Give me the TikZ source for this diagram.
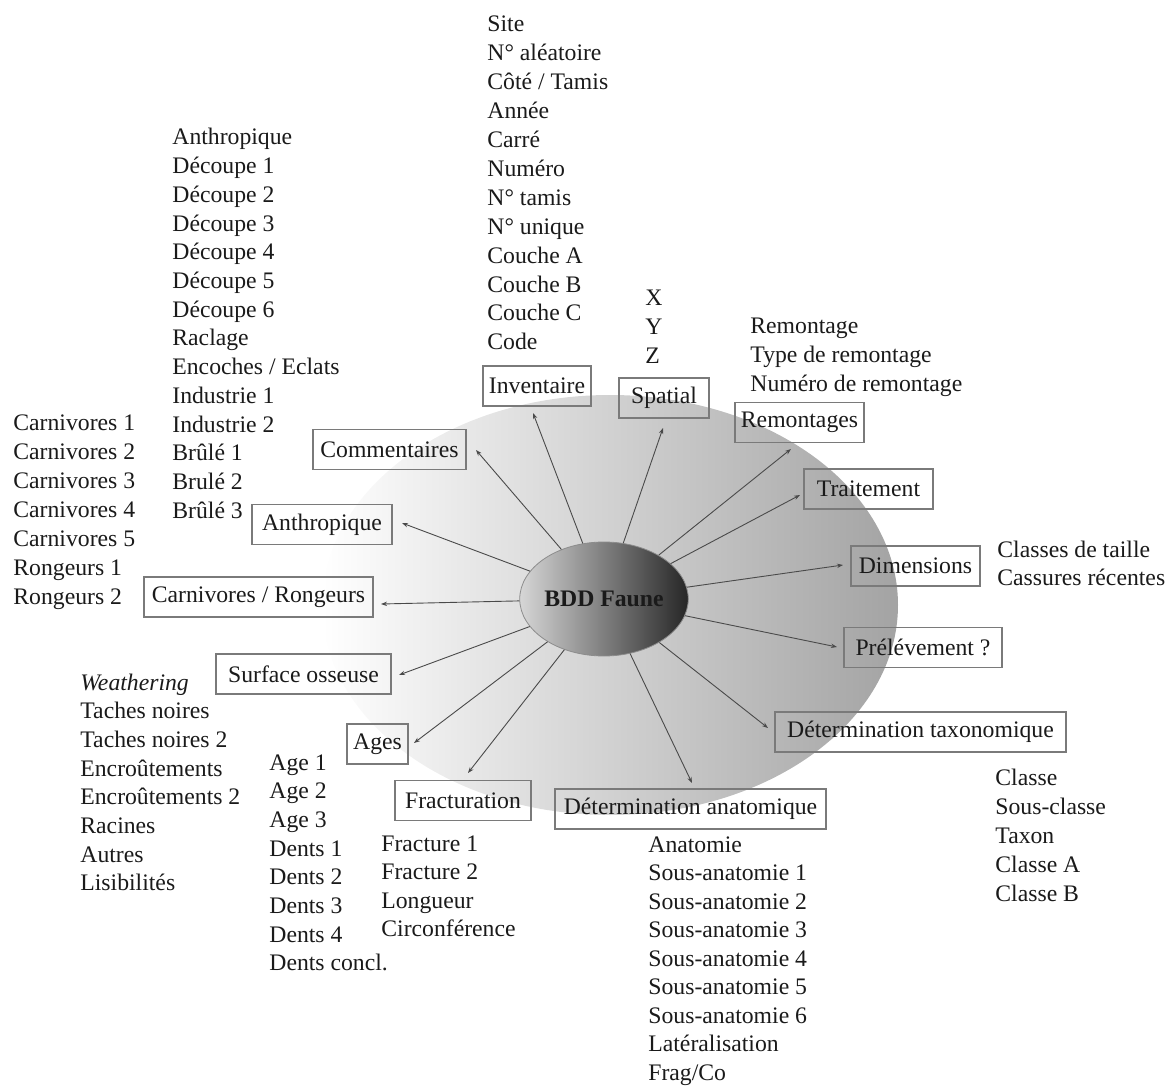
\documentclass[tikz,border=0pt]{standalone}
\usepackage{fontspec}
\setmainfont{Liberation Serif}
\usetikzlibrary{arrows.meta,shapes.geometric}
\definecolor{txt}{HTML}{1A1A1A}
\definecolor{boxline}{HTML}{7A7A7A}
\definecolor{arrline}{HTML}{4A4A4A}
\begin{document}
\begin{tikzpicture}[x=0.5pt,y=-0.5pt,
  every node/.style={font=\fontsize{11.85}{14.35}\selectfont, text=txt},
  lst/.style={anchor=base west, inner sep=0pt},
  box/.style={draw=boxline, line width=0.6pt, inner sep=0pt, minimum height=20pt},
  arr/.style={draw=arrline, line width=0.45pt, -{Stealth[length=3pt,width=2.2pt]}}]
\useasboundingbox (0,0) rectangle (1169,1086);
% background ellipse
\path[left color=white, right color=black!36] (610,605) ellipse [x radius=288, y radius=210];
% centre
\node[ellipse, draw=black!45, line width=0.4pt, inner sep=0pt, minimum width=68pt, minimum height=57pt,
      left color=black!16, right color=black!85] (bdd) at (604,599) {\bfseries BDD Faune};
% boxes
\node[box, minimum width=54pt]   (inv) at (537,386)   {Inventaire};
\node[box, minimum width=45pt]   (spa) at (664,398)   {Spatial};
\node[box, minimum width=64.5pt] (rem) at (799.5,422.5) {Remontages};
\node[box, minimum width=64.5pt] (tra) at (868.5,489) {Traitement};
\node[box, minimum width=64.5pt] (dim) at (915.5,566) {Dimensions};
\node[box, minimum width=79pt]   (pre) at (923,647.5) {Prélévement ?};
\node[box, minimum width=145.5pt] (tax) at (920.5,732) {Détermination taxonomique};
\node[box, minimum width=135.5pt] (ana) at (690.5,809) {Détermination anatomique};
\node[box, minimum width=68pt]   (fra) at (463,800.5) {Fracturation};
\node[box, minimum width=30.5pt] (age) at (377.5,744) {Ages};
\node[box, minimum width=87.5pt] (sur) at (303.5,674) {Surface osseuse};
\node[box, minimum width=114.5pt] (car) at (258.5,597) {Carnivores / Rongeurs};
\node[box, minimum width=70pt]   (ant) at (322,524.5) {Anthropique};
\node[box, minimum width=76.5pt] (com) at (389.5,449.5) {Commentaires};
% arrow tips
\coordinate (tCom) at (476,450);
\coordinate (tInv) at (533,413);
\coordinate (tSpa) at (663,428);
\coordinate (tAnt) at (402,523);
\coordinate (tRem) at (791,449);
\coordinate (tTra) at (800,495);
\coordinate (tDim) at (843,565);
\coordinate (tPre) at (837,647);
\coordinate (tTax) at (768,728);
\coordinate (tAna) at (692,783);
\coordinate (tFra) at (468,773);
\coordinate (tAge) at (414,743);
\coordinate (tSur) at (399,675);
\coordinate (tCar) at (381,604);
\foreach \t in {tCom,tInv,tSpa,tAnt,tRem,tTra,tDim,tPre,tTax,tAna,tFra,tAge,tSur,tCar}
  \draw[arr] (bdd) -- (\t);
% lists
\foreach \s [count=\i from 0] in {Site, N° aléatoire, Côté / Tamis, Année, Carré, Numéro, N° tamis, N° unique, Couche A, Couche B, Couche C, Code}
  \node[lst] (linv\i) at (487,{32+28.9*\i}) {\s};
\foreach \s [count=\i from 0] in {X, Y, Z}
  \node[lst] (lspa\i) at (645,{306+28.9*\i}) {\s};
\foreach \s [count=\i from 0] in {Remontage, Type de remontage, Numéro de remontage}
  \node[lst] (lrem\i) at (750,{334+28.6*\i}) {\s};
\foreach \s [count=\i from 0] in {Anthropique, Découpe 1, Découpe 2, Découpe 3, Découpe 4, Découpe 5, Découpe 6, Raclage, Encoches / Eclats, Industrie 1, Industrie 2, Brûlé 1, Brulé 2, Brûlé 3}
  \node[lst] (lant\i) at (172,{145+28.7*\i}) {\s};
\foreach \s [count=\i from 0] in {Carnivores 1, Carnivores 2, Carnivores 3, Carnivores 4, Carnivores 5, Rongeurs 1, Rongeurs 2}
  \node[lst] (lcar\i) at (13,{430+29.1*\i}) {\s};
\foreach \s [count=\i from 0] in {\textit{Weathering}, Taches noires, Taches noires 2, Encroûtements, Encroûtements 2, Racines, Autres, Lisibilités}
  \node[lst] (lsur\i) at (80,{690+28.7*\i}) {\s};
\foreach \s [count=\i from 0] in {Age 1, Age 2, Age 3, Dents 1, Dents 2, Dents 3, Dents 4, Dents concl.}
  \node[lst] (lage\i) at (269,{770+28.7*\i}) {\s};
\foreach \s [count=\i from 0] in {Fracture 1, Fracture 2, Longueur, Circonférence}
  \node[lst] (lfra\i) at (381,{851+28.5*\i}) {\s};
\foreach \s [count=\i from 0] in {Anatomie, Sous-anatomie 1, Sous-anatomie 2, Sous-anatomie 3, Sous-anatomie 4, Sous-anatomie 5, Sous-anatomie 6, Latéralisation, Frag/Co}
  \node[lst] (lana\i) at (648,{852+28.5*\i}) {\s};
\foreach \s [count=\i from 0] in {Classe, Sous-classe, Taxon, Classe A, Classe B}
  \node[lst] (ltax\i) at (995,{785+29*\i}) {\s};
\foreach \s [count=\i from 0] in {Classes de taille, Cassures récentes}
  \node[lst] (ldim\i) at (997,{557+28.5*\i}) {\s};
\end{tikzpicture}
\end{document}
